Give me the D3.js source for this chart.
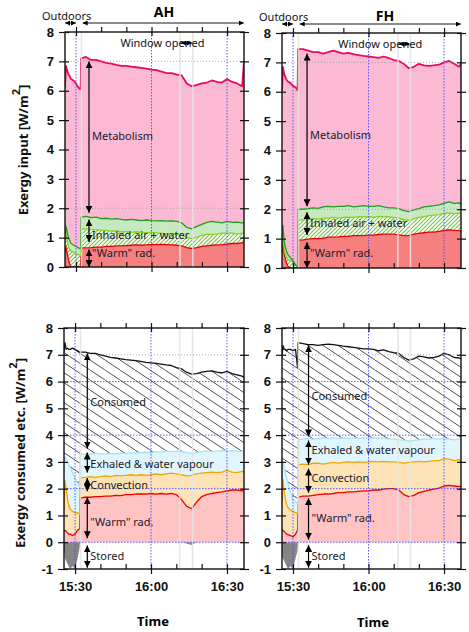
<!DOCTYPE html>
<html>
<head>
<meta charset="utf-8">
<script src="https://cdn.jsdelivr.net/npm/d3@7"></script>
<style>
  body { margin: 0; background: #fff; }
  text { font-family: "Noto Sans", sans-serif; }
  .tick text { font-family: "Liberation Sans", sans-serif; font-weight: bold; font-size: 13px; fill: #111; }
</style>
</head>
<body>
<div id="chart-area"></div>
<script>
/*
*    exergy chart - AH / FH
*/

// sample times (shared by all series)
var times = ["15:25:38","15:26:00","15:26:30","15:27:00","15:27:30","15:28:00","15:29:00","15:30:00","15:31:00","15:31:50",
    "15:32:00","15:34:00","15:36:00","15:38:00","15:40:00","15:42:00","15:44:00","15:46:00","15:48:00","15:50:00",
    "15:52:00","15:54:00","15:56:00","15:58:00","16:00:00","16:02:00","16:04:00","16:06:00","16:08:00","16:10:00",
    "16:12:00","16:14:00","16:16:00","16:18:00","16:20:00","16:22:00","16:24:00","16:26:00","16:28:00","16:30:00",
    "16:32:00","16:34:00","16:36:00","16:36:44"];
var timeDomain = ["15:25:38","16:36:44"];
var xTickTimes = ["15:30:00","15:40:00","15:50:00","16:00:00","16:10:00","16:20:00","16:30:00"];
var xLabelTimes = ["15:30:00","16:00:00","16:30:00"];
var yTicksTop = [0,1,2,3,4,5,6,7,8];
var yTicksBottom = [-1,0,1,2,3,4,5,6,7,8];

// AH - exergy input (levels of each boundary line)
var ahTopWarm = [0.5,0.7,0.45,0.25,0.1,0,0,0,0,0,
    0.65,0.65,0.66,0.68,0.68,0.7,0.7,0.72,0.72,0.73,
    0.74,0.75,0.74,0.75,0.76,0.76,0.77,0.76,0.75,0.74,
    0.72,0.66,0.63,0.66,0.7,0.72,0.74,0.75,0.76,0.78,
    0.8,0.8,0.82,0.82];
var ahTopInhaled = [0.9,1.2,0.9,0.7,0.6,0.55,0.5,0.45,0.42,0.4,
    1.3,1.3,1.28,1.27,1.25,1.25,1.22,1.23,1.2,1.2,
    1.18,1.2,1.18,1.17,1.18,1.15,1.15,1.12,1.12,1.1,
    1.08,1.0,0.97,1.02,1.08,1.12,1.1,1.12,1.15,1.15,
    1.15,1.12,1.15,1.15];
var ahTopWater = [1.1,1.4,1.2,1.0,0.9,0.8,0.75,0.7,0.65,0.62,
    1.7,1.72,1.68,1.7,1.65,1.66,1.63,1.65,1.62,1.6,
    1.62,1.6,1.58,1.6,1.58,1.57,1.58,1.56,1.57,1.55,
    1.5,1.35,1.3,1.38,1.45,1.52,1.55,1.53,1.5,1.55,
    1.52,1.53,1.5,1.5];
var ahTopTotal = [6.1,6.85,6.7,6.55,6.5,6.4,6.35,6.25,6.1,6.05,
    7.1,7.15,7.05,7.05,7.0,6.95,6.92,6.88,6.85,6.85,
    6.82,6.8,6.78,6.75,6.72,6.7,6.65,6.6,6.6,6.55,
    6.52,6.25,6.15,6.2,6.25,6.28,6.35,6.3,6.28,6.4,
    6.3,6.25,6.15,7.0];

// FH - exergy input
var fhTopWarm = [0.5,0.8,0.5,0.3,0.15,0.05,0,0,0,0,
    0.95,0.96,0.98,1.0,1.0,1.02,1.05,1.05,1.06,1.08,
    1.08,1.1,1.1,1.1,1.12,1.12,1.14,1.15,1.15,1.15,
    1.13,1.1,1.1,1.15,1.18,1.2,1.22,1.22,1.25,1.28,
    1.3,1.28,1.27,1.25];
var fhTopInhaled = [0.8,1.1,0.6,0.45,0.35,0.3,0.25,0.2,0.1,0.05,
    1.62,1.65,1.65,1.68,1.66,1.7,1.7,1.72,1.7,1.72,
    1.73,1.72,1.75,1.74,1.75,1.73,1.76,1.74,1.75,1.72,
    1.7,1.65,1.63,1.68,1.72,1.75,1.78,1.8,1.82,1.86,
    1.88,1.85,1.87,1.85];
var fhTopWater = [1.0,1.45,0.9,0.7,0.55,0.45,0.35,0.25,0.1,0.05,
    2.0,2.0,2.02,2.05,2.03,2.08,2.1,2.08,2.1,2.1,
    2.12,2.08,2.1,2.12,2.1,2.1,2.12,2.08,2.05,2.05,
    2.02,1.95,1.92,1.98,2.02,2.08,2.1,2.12,2.15,2.2,
    2.25,2.2,2.22,2.15];
var fhTopTotal = [6.0,6.85,6.6,6.5,6.4,6.35,6.3,6.2,6.15,6.05,
    7.45,7.45,7.4,7.35,7.35,7.3,7.35,7.4,7.35,7.3,
    7.32,7.28,7.25,7.22,7.2,7.18,7.15,7.2,7.15,7.08,
    7.05,6.95,6.8,6.85,6.95,6.9,6.88,6.9,6.92,7.0,
    7.05,6.95,6.85,6.95];

// AH - exergy consumed etc.
var ahBotStored = [-0.3,-0.6,-0.7,-0.8,-0.9,-1.0,-0.9,-1.0,-0.6,-0.2,
    0,0,0,0,0,0,0,0,0,0,
    0,0,0,0,0,0,0,0,0,0,
    0,-0.05,-0.1,0,0,0,0,0,0,0,
    0,0,0,0];
var ahBotWarm = [0.4,0.45,0.4,0.35,0.3,0.3,0.25,0.3,0.45,0.5,
    1.65,1.68,1.68,1.7,1.7,1.72,1.72,1.75,1.74,1.78,
    1.78,1.8,1.8,1.8,1.82,1.8,1.82,1.8,1.82,1.78,
    1.6,1.35,1.25,1.5,1.7,1.78,1.82,1.85,1.88,1.92,
    1.95,1.95,1.92,1.95];
var ahBotConv = [1.2,2.3,2.0,1.6,1.4,1.25,1.15,1.1,1.1,1.05,
    2.4,2.42,2.45,2.42,2.45,2.48,2.45,2.5,2.48,2.5,
    2.52,2.5,2.52,2.5,2.52,2.55,2.52,2.55,2.58,2.55,
    2.52,2.48,2.5,2.55,2.58,2.6,2.62,2.6,2.62,2.68,
    2.62,2.6,2.65,2.62];
var ahBotExh = [3.0,3.2,3.1,3.0,2.9,2.8,2.6,2.4,2.2,2.1,
    3.3,3.28,3.3,3.32,3.3,3.3,3.32,3.3,3.33,3.32,
    3.35,3.33,3.35,3.36,3.35,3.38,3.36,3.4,3.38,3.4,
    3.38,3.35,3.32,3.35,3.38,3.4,3.38,3.4,3.42,3.4,
    3.42,3.4,3.38,3.4];
var ahBotTotal = [7.1,7.45,7.2,7.25,7.2,7.2,7.25,7.2,7.15,7.1,
    7.1,7.1,7.05,7.05,7.0,6.95,6.9,6.88,6.85,6.82,
    6.8,6.78,6.75,6.72,6.7,6.68,6.65,6.62,6.6,6.52,
    6.48,6.35,6.28,6.3,6.35,6.38,6.4,6.35,6.32,6.38,
    6.3,6.25,6.2,6.15];

// FH - exergy consumed etc.
var fhBotStored = [-0.5,-0.6,-0.7,-0.8,-0.9,-1.0,-0.9,-1.0,-0.6,-0.3,
    0,0,0,0,0,0,0,0,0,0,
    0,0,0,0,0,0,0,0,0,0,
    0,0,0,0,0,0,0,0,0,0,
    0,0,0,0];
var fhBotWarm = [0.45,0.45,0.4,0.35,0.3,0.28,0.25,0.2,0.3,0.45,
    1.68,1.72,1.72,1.75,1.78,1.8,1.8,1.82,1.85,1.85,
    1.88,1.88,1.9,1.92,1.92,1.95,1.95,1.98,2.0,2.0,
    1.95,1.78,1.7,1.75,1.85,1.9,1.95,1.98,2.02,2.1,
    2.12,2.1,2.08,2.1];
var fhBotConv = [1.5,2.35,1.9,1.6,1.4,1.3,1.2,1.15,1.1,1.1,
    2.9,2.92,2.9,2.95,2.95,2.92,2.95,2.98,2.95,2.98,
    3.0,2.98,3.0,2.98,3.0,3.02,3.0,3.02,3.0,3.0,
    2.98,2.95,2.98,3.0,3.02,3.0,3.02,3.05,3.05,3.12,
    3.1,3.05,3.08,3.02];
var fhBotExh = [2.6,3.0,2.8,2.6,2.4,2.2,1.9,1.6,1.5,1.45,
    3.82,3.85,3.88,3.85,3.88,3.9,3.88,3.9,3.88,3.9,
    3.88,3.9,3.88,3.9,3.88,3.9,3.88,3.9,3.85,3.85,
    3.82,3.8,3.78,3.8,3.82,3.85,3.85,3.88,3.85,3.88,
    3.85,3.82,3.85,3.82];
var fhBotTotal = [6.9,7.35,7.2,7.2,7.15,7.2,7.2,7.15,7.2,6.5,
    7.45,7.42,7.38,7.38,7.35,7.38,7.4,7.38,7.35,7.32,
    7.3,7.28,7.25,7.22,7.22,7.2,7.15,7.18,7.12,7.08,
    7.05,6.9,6.8,6.85,6.95,6.92,6.88,6.9,6.95,7.05,
    7.0,6.9,6.88,6.85];

// annotations
var ahTopArrows = [[7.0, 1.85], [1.62, 0.85], [0.6, 0.0]];
var fhTopArrows = [[7.3, 2.1], [1.9, 1.12], [0.88, 0.0]];
var ahBotArrows = [[7.05, 3.5], [3.35, 2.6], [2.4, 1.9], [1.68, 0.15], [-0.12, -0.95]];
var fhBotArrows = [[7.35, 3.95], [3.8, 2.9], [2.75, 1.85], [1.65, 0.1], [-0.1, -0.95]];
var topLabels = ["Metabolism", "Inhaled air + water", "\"Warm\" rad."];
var botLabels = ["Consumed", "Exhaled & water vapour", "Convection", "\"Warm\" rad.", "Stored"];
var ahTopLabelAt = [4.44, 1.1, 0.47];
var fhTopLabelAt = [4.52, 1.53, 0.51];
var ahBotLabelAt = [5.22, 2.91, 2.13, 0.75, -0.52];
var fhBotLabelAt = [5.45, 3.43, 2.39, 0.9, -0.52];
var doorTime = "15:32:10";
var ahWindow = ["16:11:20", "16:16:25"];
var fhWindow = ["16:11:40", "16:16:40"];
var outdoorSpan = ["15:25:38", "15:30:00"];
var indoorSpan = ["15:32:40", "16:36:40"];

var parseT = d3.timeParse("%H:%M:%S");
var T = times.map(parseT);

var svg = d3.select("#chart-area")
    .append("svg")
    .attr("width", 469)
    .attr("height", 632);

var defs = svg.append("defs");

// hatch patterns
var gp = defs.append("pattern").attr("id", "greenHatch")
    .attr("patternUnits", "userSpaceOnUse").attr("width", 4).attr("height", 4);
gp.append("rect").attr("width", 4).attr("height", 4).attr("fill", "#fff");
gp.append("path").attr("d", "M-1,1 l2,-2 M0,4 l4,-4 M3,5 l2,-2")
    .attr("stroke", "#74c83e").attr("stroke-width", 1.1);

var bp = defs.append("pattern").attr("id", "blackHatch")
    .attr("patternUnits", "userSpaceOnUse").attr("width", 15).attr("height", 10);
bp.append("rect").attr("width", 15).attr("height", 10).attr("fill", "#fff");
bp.append("path").attr("d", "M-15,-10 L30,20")
    .attr("stroke", "#3a3a3a").attr("stroke-width", 0.9);

function marker(id, size) {
    defs.append("marker").attr("id", id)
        .attr("viewBox", "0 0 10 10").attr("refX", 10).attr("refY", 5)
        .attr("markerWidth", size).attr("markerHeight", size)
        .attr("markerUnits", "userSpaceOnUse")
        .attr("orient", "auto-start-reverse")
        .append("path").attr("d", "M0,0L10,5L0,10z").attr("fill", "#000");
}
marker("head", 7);
marker("headSmall", 5);

var panels = [
    { id: "ahTop", xr: [65, 244], yr: [267, 32], dom: [0, 8], yTicks: yTicksTop, labels: false,
      layers: [
        { lo: null, hi: ahTopWarm, fill: "#f5807f", line: "#e60000" },
        { lo: ahTopWarm, hi: ahTopInhaled, fill: "url(#greenHatch)", line: "#86d21e" },
        { lo: ahTopInhaled, hi: ahTopWater, fill: "#c6e9c2", line: "#1f9e1f" },
        { lo: ahTopWater, hi: ahTopTotal, fill: "#fbb9d3", line: "#ee0a5a", lw: 1.8 }
      ],
      win: ahWindow, arrowTime: "15:35:10", arrows: ahTopArrows, text: topLabels, textAt: ahTopLabelAt },
    { id: "fhTop", xr: [282, 461], yr: [268, 33], dom: [0, 8], yTicks: yTicksTop, labels: false,
      layers: [
        { lo: null, hi: fhTopWarm, fill: "#f5807f", line: "#e60000" },
        { lo: fhTopWarm, hi: fhTopInhaled, fill: "url(#greenHatch)", line: "#86d21e" },
        { lo: fhTopInhaled, hi: fhTopWater, fill: "#c6e9c2", line: "#1f9e1f" },
        { lo: fhTopWater, hi: fhTopTotal, fill: "#fbb9d3", line: "#ee0a5a", lw: 1.8 }
      ],
      win: fhWindow, arrowTime: "15:35:35", arrows: fhTopArrows, text: topLabels, textAt: fhTopLabelAt },
    { id: "ahBot", xr: [64, 244], yr: [569, 328], dom: [-1, 8], yTicks: yTicksBottom, labels: true,
      layers: [
        { lo: null, hi: ahBotStored, fill: "#858585", line: null },
        { lo: null, hi: ahBotWarm, fill: "#ffc3c3", line: "#ee0000" },
        { lo: ahBotWarm, hi: ahBotConv, fill: "#fde3b6", line: "#f5a300" },
        { lo: ahBotConv, hi: ahBotExh, fill: "#e1f5fc", line: "#a6e3f4" },
        { lo: ahBotExh, hi: ahBotTotal, fill: "url(#blackHatch)", line: "#111" }
      ],
      win: ahWindow, arrowTime: "15:34:50", arrows: ahBotArrows, text: botLabels, textAt: ahBotLabelAt },
    { id: "fhBot", xr: [282, 461], yr: [569, 328], dom: [-1, 8], yTicks: yTicksBottom, labels: true,
      layers: [
        { lo: null, hi: fhBotStored, fill: "#858585", line: null },
        { lo: null, hi: fhBotWarm, fill: "#ffc3c3", line: "#ee0000" },
        { lo: fhBotWarm, hi: fhBotConv, fill: "#fde3b6", line: "#f5a300" },
        { lo: fhBotConv, hi: fhBotExh, fill: "#e1f5fc", line: "#a6e3f4" },
        { lo: fhBotExh, hi: fhBotTotal, fill: "url(#blackHatch)", line: "#111" }
      ],
      win: fhWindow, arrowTime: "15:36:10", arrows: fhBotArrows, text: botLabels, textAt: fhBotLabelAt }
];

panels.forEach((p) => {
    var x = d3.scaleTime().domain(timeDomain.map(parseT)).range(p.xr);
    var y = d3.scaleLinear().domain(p.dom).range(p.yr);
    var g = svg.append("g");

    defs.append("clipPath").attr("id", "clip-" + p.id).append("rect")
        .attr("x", p.xr[0]).attr("y", p.yr[1])
        .attr("width", p.xr[1] - p.xr[0]).attr("height", p.yr[0] - p.yr[1]);
    var plot = g.append("g").attr("clip-path", "url(#clip-" + p.id + ")");

    p.layers.forEach((L) => {
        var area = d3.area()
            .x((d, i) => x(T[i]))
            .y0((d, i) => y(L.lo ? L.lo[i] : 0))
            .y1((d) => y(d));
        plot.append("path").datum(L.hi).attr("d", area).attr("fill", L.fill);
    });
    p.layers.forEach((L) => {
        if (!L.line) return;
        var line = d3.line().x((d, i) => x(T[i])).y((d) => y(d));
        plot.append("path").datum(L.hi).attr("d", line)
            .attr("fill", "none").attr("stroke", L.line)
            .attr("stroke-width", L.lw || 1.3).attr("stroke-linejoin", "round");
    });

    // light grey marks: door / window times
    [doorTime].concat(p.win).forEach((t) => {
        plot.append("line")
            .attr("x1", x(parseT(t))).attr("x2", x(parseT(t)))
            .attr("y1", p.yr[1]).attr("y2", p.yr[0])
            .attr("stroke", "#e4e4e4").attr("stroke-width", 1.6).attr("opacity", 0.85);
    });

    // grid
    var greyRows = p.labels ? [7] : [7, 2];
    greyRows.forEach((v) => {
        plot.append("line").attr("x1", p.xr[0]).attr("x2", p.xr[1])
            .attr("y1", y(v)).attr("y2", y(v))
            .attr("stroke", "#999").attr("stroke-dasharray", "1,2").attr("stroke-width", 0.8);
    });
    if (p.labels) {
        [6, 4, 2, 0].forEach((v) => {
            plot.append("line").attr("x1", p.xr[0]).attr("x2", p.xr[1])
                .attr("y1", y(v)).attr("y2", y(v))
                .attr("stroke", "#4b4bff").attr("stroke-dasharray", "1.5,1.5").attr("stroke-width", 0.9);
        });
    }
    xLabelTimes.forEach((t) => {
        plot.append("line").attr("x1", x(parseT(t))).attr("x2", x(parseT(t)))
            .attr("y1", p.yr[1]).attr("y2", p.yr[0])
            .attr("stroke", "#4b4bff").attr("stroke-dasharray", "1.5,1.5").attr("stroke-width", 0.9);
    });

    // frame
    g.append("rect").attr("x", p.xr[0]).attr("y", p.yr[1])
        .attr("width", p.xr[1] - p.xr[0]).attr("height", p.yr[0] - p.yr[1])
        .attr("fill", "none").attr("stroke", "#111").attr("stroke-width", 1.4);

    // axes
    var xt = xTickTimes.map(parseT);
    var xm = xLabelTimes.map(parseT);
    function axis(gen, tx, ty) {
        var a = g.append("g").attr("transform", "translate(" + tx + "," + ty + ")").call(gen);
        a.select(".domain").remove();
        a.selectAll(".tick line").attr("stroke", "#111").attr("stroke-width", 1.2);
        return a;
    }
    axis(d3.axisLeft(y).tickValues(p.yTicks).tickSize(6).tickPadding(5).tickFormat((d) => String(d)), p.xr[0], 0);
    axis(d3.axisLeft(y).tickValues(p.yTicks).tickSize(-4).tickFormat(""), p.xr[0], 0);
    axis(d3.axisRight(y).tickValues(p.yTicks).tickSize(5).tickFormat(""), p.xr[1], 0);
    axis(d3.axisRight(y).tickValues(p.yTicks).tickSize(-4).tickFormat(""), p.xr[1], 0);
    axis(d3.axisTop(x).tickValues(xt).tickSize(5).tickFormat(""), 0, p.yr[1]);
    axis(d3.axisTop(x).tickValues(xm).tickSize(-4).tickFormat(""), 0, p.yr[1]);
    axis(d3.axisBottom(x).tickValues(xt).tickSize(-5).tickFormat(""), 0, p.yr[0]);
    if (p.labels) {
        axis(d3.axisBottom(x).tickValues(xm).tickSize(5).tickPadding(8)
            .tickFormat(d3.timeFormat("%H:%M")), 0, p.yr[0]);
    } else {
        axis(d3.axisBottom(x).tickValues(xm).tickSize(5).tickFormat(""), 0, p.yr[0]);
    }

    // annotation arrows and labels
    var ax = x(parseT(p.arrowTime));
    p.arrows.forEach((a) => {
        g.append("line").attr("x1", ax).attr("x2", ax)
            .attr("y1", y(a[0])).attr("y2", y(a[1]))
            .attr("stroke", "#000").attr("stroke-width", 1.2)
            .attr("marker-start", "url(#head)").attr("marker-end", "url(#head)");
    });
    p.text.forEach((s, i) => {
        g.append("text").attr("x", ax + 3).attr("y", y(p.textAt[i]))
            .attr("dy", "0.35em").attr("font-size", 11).attr("fill", "#1a1a2a")
            .text(s);
    });

    // window opened
    var wy = p.yr[1] + 11;
    if (!p.labels) {
        g.append("text").attr("x", (x(parseT(p.win[0])) + x(parseT(p.win[1]))) / 2 - 24)
            .attr("y", wy).attr("dy", "0.35em").attr("text-anchor", "middle")
            .attr("font-size", 11).attr("fill", "#111").text("Window opened");
        g.append("line")
            .attr("x1", x(parseT(p.win[0])) + 1).attr("x2", x(parseT(p.win[1])) - 1)
            .attr("y1", wy).attr("y2", wy)
            .attr("stroke", "#000").attr("stroke-width", 1.4)
            .attr("marker-start", "url(#headSmall)").attr("marker-end", "url(#headSmall)");

        // header: outdoors / indoor spans
        var hy = p.yr[1] - 9;
        g.append("line")
            .attr("x1", x(parseT(outdoorSpan[0]))).attr("x2", x(parseT(outdoorSpan[1])))
            .attr("y1", hy).attr("y2", hy).attr("stroke", "#555").attr("stroke-width", 1.2)
            .attr("marker-start", "url(#headSmall)").attr("marker-end", "url(#headSmall)");
        g.append("line")
            .attr("x1", x(parseT(indoorSpan[0]))).attr("x2", x(parseT(indoorSpan[1])))
            .attr("y1", hy).attr("y2", hy).attr("stroke", "#666").attr("stroke-width", 1.6)
            .attr("marker-start", "url(#headSmall)").attr("marker-end", "url(#headSmall)");
        g.append("text").attr("x", p.xr[0] - 23).attr("y", hy - 3)
            .attr("font-size", 11).attr("fill", "#111").text("Outdoors");
    }
});

// titles
svg.append("text").attr("x", 164).attr("y", 17).attr("text-anchor", "middle")
    .attr("font-family", "Liberation Sans").attr("font-weight", "bold").attr("font-size", 14).text("AH");
svg.append("text").attr("x", 385).attr("y", 21).attr("text-anchor", "middle")
    .attr("font-family", "Liberation Sans").attr("font-weight", "bold").attr("font-size", 14).text("FH");

// y axis titles
function yTitle(txt, cx, cy) {
    var t = svg.append("text")
        .attr("transform", "translate(" + cx + "," + cy + ") rotate(-90)")
        .attr("text-anchor", "middle")
        .attr("font-family", "Liberation Sans").attr("font-weight", "bold").attr("font-size", 13)
        .attr("fill", "#111");
    t.append("tspan").text(txt);
    t.append("tspan").attr("dy", -8).attr("font-size", 11).text("2");
    t.append("tspan").attr("dy", 8).text("]");
}
yTitle("Exergy input [W/m", 28, 150);
yTitle("Exergy consumed etc. [W/m", 25, 453);

// x axis titles
svg.append("text").attr("x", 153).attr("y", 626).attr("text-anchor", "middle")
    .attr("font-family", "Liberation Sans").attr("font-weight", "bold").attr("font-size", 13).text("Time");
svg.append("text").attr("x", 373).attr("y", 627).attr("text-anchor", "middle")
    .attr("font-family", "Liberation Sans").attr("font-weight", "bold").attr("font-size", 13).text("Time");
</script>
</body>
</html>
